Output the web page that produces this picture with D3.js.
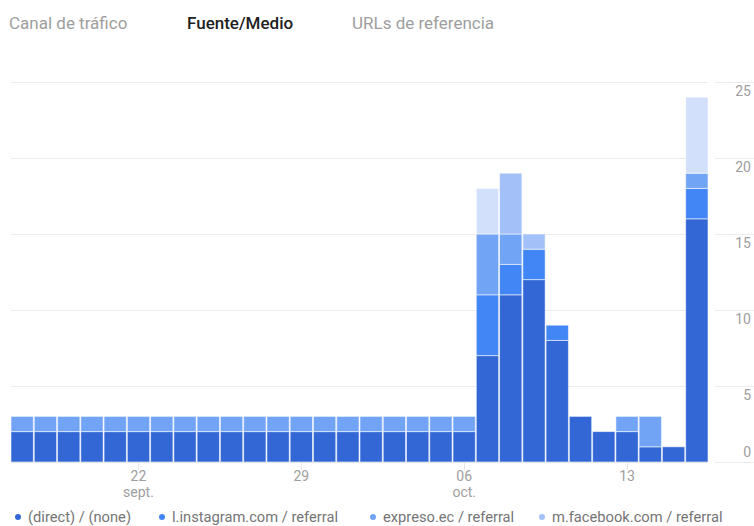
<!DOCTYPE html>
<html>
<head>
<meta charset="utf-8">
<script src="https://cdn.jsdelivr.net/npm/d3@7"></script>
<style>
  body { margin: 0; background: #fff; font-family: Roboto, "Noto Sans", sans-serif; }
  svg { display: block; }
</style>
</head>
<body>
<svg id="chart" width="754" height="526"></svg>
<script>
// days shown (17 sept -> 16 oct)
var days = ["17/09","18/09","19/09","20/09","21/09","22/09","23/09","24/09","25/09","26/09",
            "27/09","28/09","29/09","30/09","01/10","02/10","03/10","04/10","05/10","06/10",
            "07/10","08/10","09/10","10/10","11/10","12/10","13/10","14/10","15/10","16/10"];

var direct    = [2,2,2,2,2,2,2,2,2,2, 2,2,2,2,2,2,2,2,2,2, 7,11,12,8,3,2,2,1,1,16];
var instagram = [0,0,0,0,0,0,0,0,0,0, 0,0,0,0,0,0,0,0,0,0, 4,2,2,1,0,0,0,0,0,2];
var expreso   = [1,1,1,1,1,1,1,1,1,1, 1,1,1,1,1,1,1,1,1,1, 4,2,0,0,0,0,1,2,0,1];
var facebook  = [0,0,0,0,0,0,0,0,0,0, 0,0,0,0,0,0,0,0,0,0, 0,4,1,0,0,0,0,0,0,0];
var otros     = [0,0,0,0,0,0,0,0,0,0, 0,0,0,0,0,0,0,0,0,0, 3,0,0,0,0,0,0,0,0,5];

var seriesNames = ["(direct) / (none)", "l.instagram.com / referral", "expreso.ec / referral", "m.facebook.com / referral", "Otros"];
var seriesColors = ["#3367d6", "#4285f4", "#72a4f6", "#a3c1f8", "#d2e0fb"];

var yTicks = [0, 5, 10, 15, 20, 25];
var xTickDays = ["22/09", "29/09", "06/10", "13/10"];
var xTickLabels = ["22", "29", "06", "13"];
var xTickMonths = ["sept.", "", "oct.", ""];

var tabs = ["Canal de tráfico", "Fuente/Medio", "URLs de referencia"];
var activeTab = 1;

var svg = d3.select("#chart");

// tabs on top
var tabX = [9, 187, 352];
svg.selectAll("text.tab")
  .data(tabs)
  .enter()
  .append("text")
  .attr("class", "tab")
  .attr("x", function(d, i) { return tabX[i]; })
  .attr("y", 29)
  .attr("font-size", "17px")
  .attr("font-weight", function(d, i) { return i === activeTab ? 500 : 400; })
  .attr("fill", function(d, i) { return i === activeTab ? "#212121" : "#9e9e9e"; })
  .text(function(d) { return d; });

// scales
var x = d3.scaleBand()
  .domain(days)
  .range([11, 708])
  .paddingInner(0.04)
  .paddingOuter(0);

var y = d3.scaleLinear()
  .domain([0, 25])
  .range([462, 82]);

// gridlines
var grid = svg.append("g");
grid.selectAll("line.g1")
  .data(yTicks)
  .enter()
  .append("line")
  .attr("x1", 11).attr("x2", 708)
  .attr("y1", function(d) { return y(d) + 0.5; })
  .attr("y2", function(d) { return y(d) + 0.5; })
  .attr("stroke", function(d) { return d === 0 ? "#e0e0e0" : "#ebebeb"; })
  .attr("stroke-width", 1);
grid.selectAll("line.g2")
  .data(yTicks)
  .enter()
  .append("line")
  .attr("x1", 715).attr("x2", 754)
  .attr("y1", function(d) { return y(d) + 0.5; })
  .attr("y2", function(d) { return y(d) + 0.5; })
  .attr("stroke", "#ebebeb")
  .attr("stroke-width", 1);

// right axis labels
svg.append("g").selectAll("text")
  .data(yTicks)
  .enter()
  .append("text")
  .attr("x", 751)
  .attr("y", function(d) { return d === 0 ? y(d) - 5 : y(d) + 14; })
  .attr("text-anchor", "end")
  .attr("font-size", "14px")
  .attr("fill", "#9e9e9e")
  .text(function(d) { return d; });

// stacked bars
var table = days.map(function(d, i) {
  return { day: d, s0: direct[i], s1: instagram[i], s2: expreso[i], s3: facebook[i], s4: otros[i] };
});
var keys = ["s0", "s1", "s2", "s3", "s4"];
var stacked = d3.stack().keys(keys)(table);

svg.append("g")
  .selectAll("g")
  .data(stacked)
  .enter()
  .append("g")
  .attr("fill", function(d, i) { return seriesColors[i]; })
  .selectAll("rect")
  .data(function(d) { return d.filter(function(p) { return p[1] > p[0]; }); })
  .enter()
  .append("rect")
  .attr("x", function(d) { return x(d.data.day); })
  .attr("y", function(d) { return y(d[1]); })
  .attr("width", x.bandwidth())
  .attr("height", function(d) { return y(d[0]) - y(d[1]); })
  .attr("stroke", "rgba(255,255,255,0.55)")
  .attr("stroke-width", 1);

// bottom ticks and labels
var xt = svg.append("g");
xt.selectAll("line")
  .data(xTickDays)
  .enter()
  .append("line")
  .attr("x1", function(d) { return Math.round(x(d) + x.bandwidth() / 2) + 0.5; })
  .attr("x2", function(d) { return Math.round(x(d) + x.bandwidth() / 2) + 0.5; })
  .attr("y1", 463).attr("y2", 470)
  .attr("stroke", "#e6e6e6");
xt.selectAll("text.d")
  .data(xTickDays)
  .enter()
  .append("text")
  .attr("class", "d")
  .attr("x", function(d) { return x(d) + x.bandwidth() / 2; })
  .attr("y", 481)
  .attr("text-anchor", "middle")
  .attr("font-size", "14px")
  .attr("fill", "#9e9e9e")
  .text(function(d, i) { return xTickLabels[i]; });
xt.selectAll("text.m")
  .data(xTickDays)
  .enter()
  .append("text")
  .attr("class", "m")
  .attr("x", function(d) { return x(d) + x.bandwidth() / 2; })
  .attr("y", 497)
  .attr("text-anchor", "middle")
  .attr("font-size", "14px")
  .attr("fill", "#9e9e9e")
  .text(function(d, i) { return xTickMonths[i]; });

// legend (only the first four series are listed)
var legendX = [18, 162, 373, 542];
var legend = svg.append("g").selectAll("g")
  .data(seriesNames.slice(0, 4))
  .enter()
  .append("g")
  .attr("transform", function(d, i) { return "translate(" + legendX[i] + ",517)"; });
legend.append("circle")
  .attr("r", 3)
  .attr("cy", 0)
  .attr("fill", function(d, i) { return seriesColors[i]; });
legend.append("text")
  .attr("x", 10)
  .attr("y", 5)
  .attr("font-size", "14.7px")
  .attr("fill", "#757575")
  .text(function(d) { return d; });
</script>
</body>
</html>
